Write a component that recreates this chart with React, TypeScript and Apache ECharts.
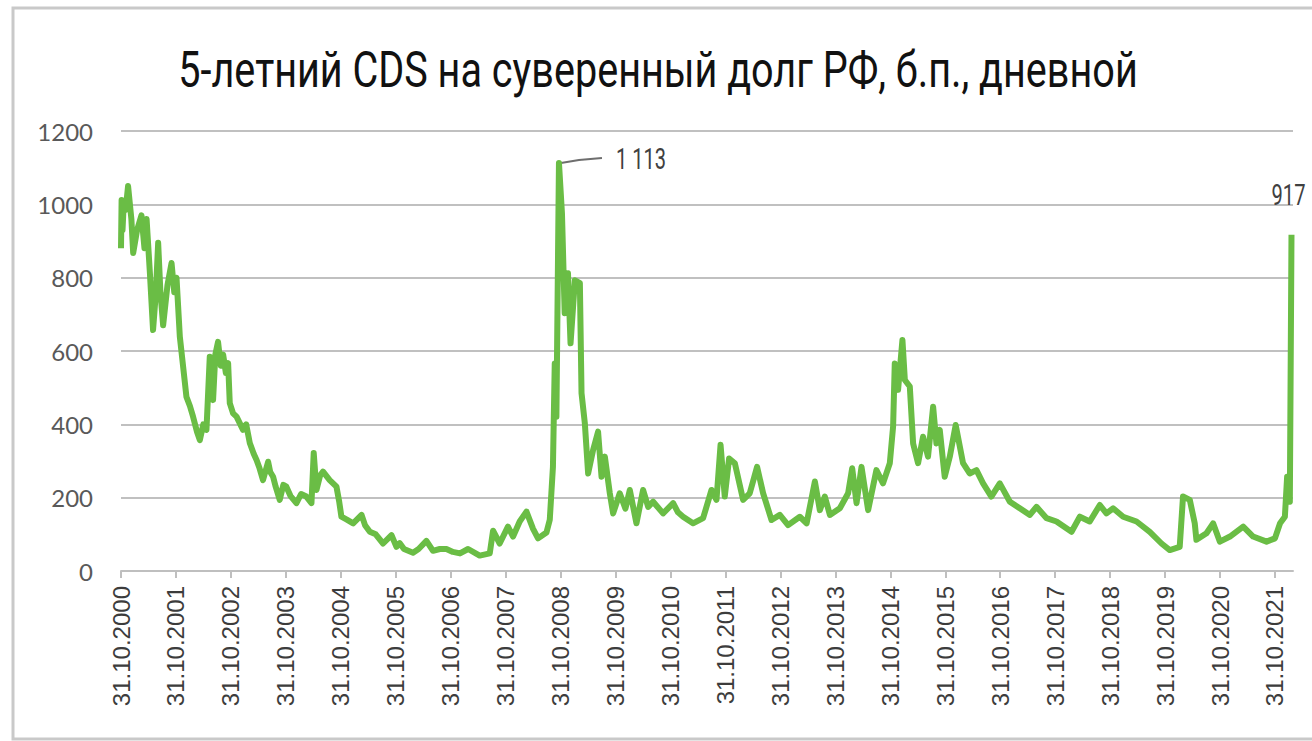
import React, { useEffect, useRef } from "react";
import * as echarts from "echarts";

const TITLE = "5-летний CDS на суверенный долг РФ, б.п., дневной";
const AXIS_START = "2000-10-31";
const AXIS_END = "2022-02-28";
const Y_MIN = 0;
const Y_MAX = 1200;
const Y_STEP = 200;

const dates: string[] = [
  "2000-10-31", "2000-11-04", "2000-11-10", "2000-11-18", "2000-12-01", "2000-12-17",
  "2001-01-08", "2001-01-20", "2001-02-15", "2001-03-16", "2001-04-05", "2001-04-19",
  "2001-05-11", "2001-06-01", "2001-06-20", "2001-07-05", "2001-07-20", "2001-08-07",
  "2001-09-05", "2001-10-02", "2001-10-20", "2001-11-04", "2001-11-26", "2001-12-18",
  "2002-01-09", "2002-02-01", "2002-02-22", "2002-03-20", "2002-04-08", "2002-05-01",
  "2002-05-22", "2002-06-13", "2002-07-05", "2002-07-20", "2002-08-07", "2002-08-25",
  "2002-09-10", "2002-09-28", "2002-10-13", "2002-10-24", "2002-11-15", "2002-12-08",
  "2003-01-20", "2003-02-10", "2003-03-06", "2003-04-01", "2003-04-20", "2003-05-10",
  "2003-06-02", "2003-07-06", "2003-07-20", "2003-08-08", "2003-08-25", "2003-09-21",
  "2003-10-15", "2003-11-04", "2003-12-01", "2004-01-10", "2004-02-10", "2004-03-16",
  "2004-04-19", "2004-05-04", "2004-05-22", "2004-06-15", "2004-07-05", "2004-08-18",
  "2004-10-02", "2004-10-20", "2004-11-04", "2004-12-10", "2005-01-21", "2005-03-18",
  "2005-04-10", "2005-05-12", "2005-06-20", "2005-08-08", "2005-10-03", "2005-11-05",
  "2005-11-27", "2005-12-25", "2006-02-23", "2006-04-01", "2006-05-23", "2006-07-06",
  "2006-08-20", "2006-10-03", "2006-11-15", "2007-01-01", "2007-02-24", "2007-05-12",
  "2007-07-18", "2007-08-09", "2007-09-22", "2007-11-16", "2007-12-20", "2008-02-02",
  "2008-03-18", "2008-05-01", "2008-06-03", "2008-07-29", "2008-08-20", "2008-09-10",
  "2008-09-22", "2008-10-03", "2008-10-20", "2008-11-09", "2008-11-27", "2008-12-19",
  "2009-01-05", "2009-02-03", "2009-03-08", "2009-03-19", "2009-04-10", "2009-05-02",
  "2009-06-04", "2009-07-07", "2009-07-30", "2009-08-21", "2009-09-23", "2009-10-15",
  "2009-11-28", "2010-01-05", "2010-02-03", "2010-03-19", "2010-05-02", "2010-06-05",
  "2010-07-08", "2010-09-12", "2010-11-18", "2010-12-20", "2011-01-23", "2011-03-30",
  "2011-06-05", "2011-07-31", "2011-09-02", "2011-09-29", "2011-10-27", "2011-11-25",
  "2012-01-02", "2012-02-26", "2012-04-10", "2012-05-29", "2012-07-08", "2012-09-02",
  "2012-10-27", "2012-12-21", "2013-03-09", "2013-04-23", "2013-06-17", "2013-07-20",
  "2013-08-22", "2013-09-25", "2013-11-30", "2014-01-24", "2014-02-20", "2014-03-21",
  "2014-04-23", "2014-06-06", "2014-07-31", "2014-09-13", "2014-10-28", "2014-11-19",
  "2014-11-30", "2014-12-22", "2015-01-20", "2015-02-05", "2015-03-10", "2015-04-01",
  "2015-05-04", "2015-06-06", "2015-07-09", "2015-08-12", "2015-09-03", "2015-09-25",
  "2015-10-28", "2015-12-01", "2016-01-09", "2016-02-27", "2016-04-11", "2016-05-26",
  "2016-07-09", "2016-09-02", "2016-10-28", "2017-01-03", "2017-03-10", "2017-05-16",
  "2017-06-29", "2017-09-04", "2017-11-09", "2018-02-17", "2018-04-13", "2018-06-18",
  "2018-08-24", "2018-10-07", "2018-11-20", "2019-01-26", "2019-04-25", "2019-07-22",
  "2019-10-08", "2019-12-02", "2020-02-06", "2020-02-28", "2020-04-13", "2020-05-16",
  "2020-05-27", "2020-08-02", "2020-09-15", "2020-10-30", "2021-01-05", "2021-04-03",
  "2021-06-08", "2021-09-05", "2021-10-31", "2021-12-04", "2022-01-05", "2022-01-20",
  "2022-02-07", "2022-02-18",
];

const cds: number[] = [
  880, 1012, 930, 1000, 985, 1050,
  960, 867, 930, 970, 880, 960,
  813, 657, 760, 895, 760, 670,
  780, 840, 760, 800, 639, 557,
  475, 450, 421, 380, 357, 400,
  385, 584, 466, 590, 625, 560,
  590, 540, 567, 458, 430, 421,
  385, 400, 349, 320, 303, 280,
  248, 298, 270, 257, 230, 194,
  235, 230, 205, 185, 210, 203,
  185, 322, 221, 260, 271, 248,
  230, 190, 148, 140, 130, 153,
  125, 107, 100, 75, 98, 66,
  76, 60, 50, 60, 82, 55,
  60, 60, 52, 48, 60, 42,
  48, 110, 75, 121, 94, 135,
  162, 115, 89, 105, 140, 284,
  566, 421, 1113, 975, 703, 812,
  621, 793, 785, 485, 403, 266,
  330, 380, 257, 312, 212, 157,
  212, 170, 221, 130, 221, 175,
  189, 157, 185, 160, 148, 130,
  144, 221, 194, 344, 203, 307,
  294, 194, 212, 284, 212, 139,
  153, 125, 148, 130, 244, 166,
  203, 153, 171, 212, 280, 185,
  284, 166, 275, 239, 294, 394,
  566, 494, 630, 521, 503, 348,
  294, 366, 312, 448, 348, 385,
  257, 312, 398, 294, 266, 275,
  239, 203, 239, 189, 171, 153,
  175, 144, 135, 107, 148, 135,
  180, 157, 171, 148, 135, 107,
  75, 57, 66, 203, 194, 130,
  85, 103, 130, 80, 94, 121,
  94, 80, 89, 130, 148, 257,
  189, 917,
];

const DAY_MS = 86400000;
const toT = (d: string) =>
  (Date.parse(d + "T00:00:00Z") - Date.parse(AXIS_START + "T00:00:00Z")) / (365.2425 * DAY_MS);

const fmtThousands = (v: number) => String(v).replace(/\B(?=(\d{3})+(?!\d))/g, " ");

function measure(text: string, font: string): number {
  const c = document.createElement("canvas").getContext("2d");
  if (!c) return text.length * 20;
  c.font = font;
  return c.measureText(text).width;
}

export default function App() {
  const ref = useRef<HTMLDivElement>(null);

  useEffect(() => {
    document.body.style.margin = "0";
    if (!ref.current) return;
    const chart = echarts.init(ref.current, null, { renderer: "svg" });

    const data = dates.map((d, i) => [toT(d), cds[i]]);

    chart.setOption({
      animation: false,
      backgroundColor: "#ffffff",
      grid: { left: 121, right: 19, top: 131, bottom: 170, containLabel: false, outerBoundsMode: "none" },
      xAxis: {
        type: "value",
        min: 0,
        max: toT(AXIS_END),
        interval: 1,
        axisLine: { show: true, lineStyle: { color: "#bfbfbf", width: 2 } },
        axisTick: { show: true, length: 7, lineStyle: { color: "#bfbfbf", width: 2 } },
        splitLine: { show: false },
        axisLabel: {
          rotate: 90,
          margin: 15,
          fontFamily: "Liberation Sans",
          fontSize: 24,
          color: "#3c3c3c",
          showMaxLabel: false,
          formatter: (v: number) => "31.10." + (2000 + Math.round(v)),
        },
      },
      yAxis: {
        type: "value",
        min: Y_MIN,
        max: Y_MAX,
        interval: Y_STEP,
        axisLine: { show: false },
        axisTick: { show: false },
        splitLine: { show: true, lineStyle: { color: "#c0c0c0", width: 2 } },
        axisLabel: {
          margin: 28,
          fontFamily: "Lato",
          fontSize: 24,
          color: "#595959",
          formatter: (v: number) => String(v),
        },
      },
      series: [
        {
          type: "line",
          data,
          symbol: "none",
          showSymbol: false,
          lineStyle: { color: "#6abd45", width: 6, join: "round" },
          z: 3,
        },
      ],
    });

    let peakIdx = 0;
    cds.forEach((v, i) => {
      if (v > cds[peakIdx]) peakIdx = i;
    });
    const lastIdx = cds.length - 1;
    const pk = chart.convertToPixel({ gridIndex: 0 }, [toT(dates[peakIdx]), cds[peakIdx]]) as number[];
    const ls = chart.convertToPixel({ gridIndex: 0 }, [toT(dates[lastIdx]), cds[lastIdx]]) as number[];

    const titleFont = "50px Roboto";
    const titleScale = 960 / measure(TITLE, titleFont);
    const labFont = "29px Roboto";
    const peakText = fmtThousands(cds[peakIdx]);
    const lastText = fmtThousands(cds[lastIdx]);
    const peakScale = 50 / measure(peakText, labFont);
    const lastScale = 34 / measure(lastText, labFont);

    chart.setOption({
      graphic: [
        {
          type: "rect",
          z: -10,
          shape: { x: 13, y: 8, width: 1320, height: 731 },
          style: { fill: "none", stroke: "#c9c9c9", lineWidth: 3 },
          silent: true,
        },
        {
          type: "text",
          x: 658,
          y: 70,
          scaleX: titleScale,
          style: {
            text: TITLE,
            font: titleFont,
            fill: "#111111",
            align: "center",
            verticalAlign: "middle",
            textAlign: "center",
            textVerticalAlign: "middle",
          },
        },
        {
          type: "polyline",
          shape: { points: [[pk[0] + 2, pk[1]], [pk[0] + 20, pk[1] - 3], [pk[0] + 43, pk[1] - 5]] },
          style: { stroke: "#6e6e6e", lineWidth: 2, fill: "none" },
        },
        {
          type: "text",
          x: pk[0] + 57,
          y: pk[1] - 4,
          scaleX: peakScale,
          style: {
            text: peakText,
            font: labFont,
            fill: "#404040",
            align: "left",
            verticalAlign: "middle",
            textAlign: "left",
            textVerticalAlign: "middle",
          },
        },
        {
          type: "text",
          x: ls[0] - 3,
          y: ls[1] - 40,
          scaleX: lastScale,
          style: {
            text: lastText,
            font: labFont,
            fill: "#404040",
            align: "center",
            verticalAlign: "middle",
            textAlign: "center",
            textVerticalAlign: "middle",
          },
        },
      ],
    });

    return () => chart.dispose();
  }, []);

  return <div ref={ref} style={{ position: "absolute", left: 0, top: 0, width: 1312, height: 741 }} />;
}
